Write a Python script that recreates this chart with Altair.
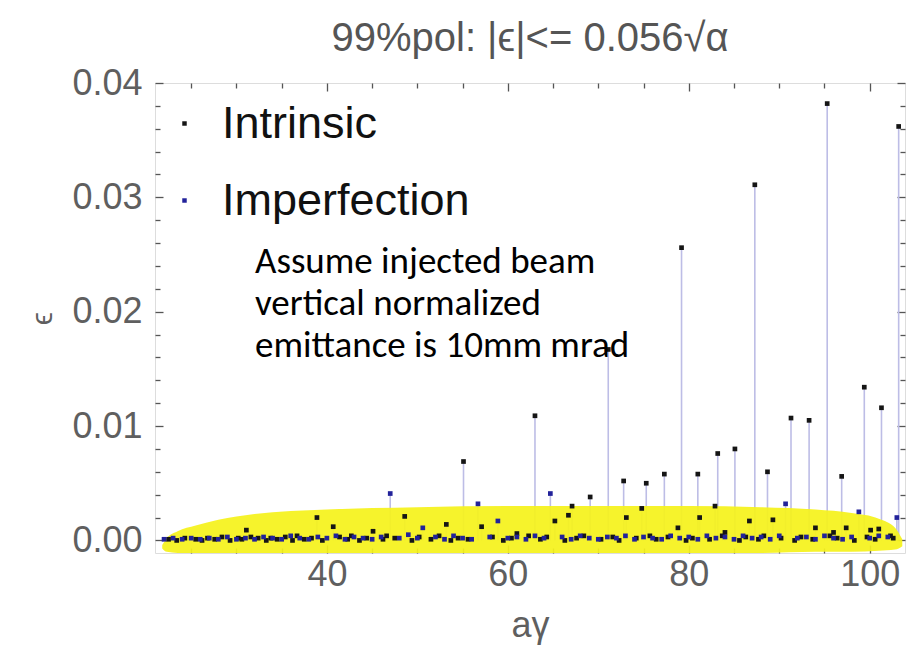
import altair as alt
import pandas as pd

# ---------------- data ----------------
intr_x = [55.1, 63.0, 71.1, 79.2, 87.3, 95.3, 103.2,
          69.1, 72.8, 75.3, 77.3, 81.0, 83.2, 85.1, 88.7, 91.3, 93.3, 96.9, 99.4, 101.3,
          31.1, 32.4, 38.9, 40.7, 45.1, 48.6, 53.2, 57.1, 61.0, 65.2, 66.7, 67.1, 73.1, 74.8,
          78.8, 81.2, 82.9, 84.0, 86.7, 89.3, 94.0, 96.0, 97.4, 100.1, 101.0,
          22.5, 23.4, 24.3, 25.5, 26.2, 26.8, 27.6, 28.4, 29.3, 30.2, 30.6, 31.6, 33.3, 33.8,
          34.5, 35.4, 36.2, 36.7, 37.5, 38.3, 39.5, 41.4, 42.3, 42.7, 43.6, 44.4, 46.2, 46.6,
          47.5, 49.4, 50.2, 51.5, 52.4, 53.7, 54.5, 55.6, 58.3, 59.5, 60.4, 62.3, 63.6, 64.3,
          66.3, 67.6, 68.4, 70.3, 71.6, 72.3, 74.2, 75.7, 76.4, 77.7, 79.7, 80.4, 82.3, 83.7,
          85.6, 86.3, 87.7, 88.3, 90.2, 91.7, 92.4, 93.7, 95.6, 96.4, 98.3, 99.7, 100.6, 102.3,
          102.6]
intr_y = [0.0069, 0.0109, 0.0167, 0.0256, 0.0311, 0.0382, 0.0362,
          0.0038, 0.0052, 0.0050, 0.0058, 0.0058, 0.0076, 0.0080, 0.0060, 0.0107, 0.0105, 0.0056, 0.0134, 0.0116,
          0.0009, 0.0002, 0.0020, 0.0012, 0.0008, 0.0021, 0.0014, 0.0012, 0.0006, 0.0017, 0.0022, 0.0030, 0.0020, 0.0028,
          0.0011, 0.0020, 0.0030, 0.0007, 0.0017, 0.0018, 0.0011, 0.0007, 0.0011, 0.0009, 0.0010,
          0.0001, 0.0000, 0.0002, 0.0001, 0.0000, 0.0002, 0.0001, 0.0003, 0.0000, 0.0002, 0.0001, 0.0003, 0.0000, 0.0002,
          0.0001, 0.0003, 0.0000, 0.0004, 0.0001, 0.0002, 0.0000, 0.0003, 0.0001, 0.0004, 0.0000, 0.0002, 0.0001, 0.0004,
          0.0002, 0.0000, 0.0003, 0.0001, 0.0004, 0.0000, 0.0002, 0.0001, 0.0003, 0.0000, 0.0002, 0.0004, 0.0001, 0.0003,
          0.0000, 0.0002, 0.0004, 0.0001, 0.0003, 0.0000, 0.0002, 0.0004, 0.0001, 0.0003, 0.0000, 0.0002, 0.0001, 0.0004,
          0.0000, 0.0003, 0.0001, 0.0004, 0.0002, 0.0000, 0.0003, 0.0001, 0.0004, 0.0002, 0.0000, 0.0003, 0.0001, 0.0004,
          0.0002]

imp_x = [22, 23, 24, 25, 26, 27, 28, 29, 30, 31, 32, 33, 34, 35, 36, 37, 38, 39, 40, 41,
         42, 43, 44, 45, 46, 47.0, 48, 49, 50, 50.6, 52, 53, 54, 55, 56, 56.7, 58, 58.9, 60, 61,
         62, 63, 64, 64.7, 66, 67, 68, 69, 70, 71, 72, 73, 74, 75, 76, 77, 78, 79, 80, 81,
         82, 83, 84, 85, 86, 87, 88, 89, 90, 90.7, 92, 93, 94, 95, 96, 97, 98, 98.8, 100, 101,
         102, 103.0]
imp_y = [0.0001, 0.0002, 0.0001, 0.0002, 0.0001, 0.0002, 0.0001, 0.0003, 0.0001, 0.0002,
         0.0001, 0.0003, 0.0002, 0.0001, 0.0004, 0.0002, 0.0001, 0.0003, 0.0002, 0.0004,
         0.0001, 0.0003, 0.0002, 0.0001, 0.0003, 0.0041, 0.0002, 0.0005, 0.0002, 0.0011,
         0.0003, 0.0001, 0.0004, 0.0002, 0.0001, 0.0032, 0.0003, 0.0017, 0.0002, 0.0003,
         0.0001, 0.0004, 0.0002, 0.0041, 0.0003, 0.0001, 0.0004, 0.0002, 0.0001, 0.0003,
         0.0002, 0.0004, 0.0001, 0.0003, 0.0002, 0.0001, 0.0004, 0.0002, 0.0003, 0.0001,
         0.0004, 0.0002, 0.0003, 0.0001, 0.0004, 0.0002, 0.0003, 0.0001, 0.0004, 0.0032,
         0.0002, 0.0003, 0.0001, 0.0004, 0.0002, 0.0001, 0.0003, 0.0025, 0.0002, 0.0004,
         0.0003, 0.0020]

series_names = ["Intrinsic", "Imperfection"]
series_colors = ["#151515", "#22229a"]

# yellow highlighter band
hl_x = [21.8, 22.3, 23.5, 25.5, 28.0, 32.0, 40.0, 50.0, 60.0, 70.0, 80.0, 88.0, 94.0, 98.0, 101.0, 102.8, 103.6]
hl_top = [-0.0004, 0.0002, 0.0008, 0.0013, 0.0018, 0.0023, 0.0027, 0.0029, 0.0030, 0.0030, 0.0030, 0.0029, 0.0027, 0.0024, 0.0019, 0.0011, 0.0001]
hl_bot = [-0.0007, -0.0010, -0.0011, -0.0011, -0.0011, -0.0011, -0.0011, -0.0011, -0.0011, -0.0011, -0.0011, -0.0011, -0.0010, -0.0010, -0.0009, -0.0008, -0.0005]

x_major = [40, 60, 80, 100]
x_ticks = [25, 30, 35, 40, 45, 50, 55, 60, 65, 70, 75, 80, 85, 90, 95, 100]
y_major = [0.0, 0.01, 0.02, 0.03, 0.04]
y_ticks = [0.0, 0.002, 0.004, 0.006, 0.008, 0.01, 0.012, 0.014, 0.016, 0.018, 0.02,
           0.022, 0.024, 0.026, 0.028, 0.03, 0.032, 0.034, 0.036, 0.038, 0.04]

title_text = "99%pol: |ϵ|<= 0.056√α"
x_title = "aγ"
y_title = "ϵ"
note_text = "Assume injected beam\nvertical normalized\nemittance is 10mm mrad"

# ---------------- tables ----------------
pts = pd.DataFrame({
    "x": intr_x + imp_x,
    "y": intr_y + imp_y,
    "series": [series_names[0]] * len(intr_x) + [series_names[1]] * len(imp_x),
})
pts["y0"] = 0.0
band = pd.DataFrame({"x": hl_x, "top": hl_top, "bot": hl_bot})
note = pd.DataFrame({"t": [note_text]})

# ---------------- style ----------------
W, H = 750, 470
F = "Liberation Sans"
GRAY = "#5f5f5f"
TICK = "#555555"

xs = alt.Scale(domain=[21.0, 103.9], nice=False, zero=False)
ys = alt.Scale(domain=[-0.0011, 0.04], nice=False, zero=False)


def tick_axis(orient, values, offset, test, major, minor):
    return alt.Axis(orient=orient, offset=offset, values=values, labels=False,
                    domain=False, grid=False, title=None, ticks=True,
                    tickColor=TICK, tickWidth=1.3,
                    tickSize={"condition": {"test": test, "value": major}, "value": minor})


x_test = "datum.value % 20 == 0"
y_test = "abs(datum.value * 100 - round(datum.value * 100)) < 0.001"

main_x = alt.Axis(orient="bottom", values=x_major, ticks=False, domain=False, grid=False,
                  labelFont=F, labelFontSize=36, labelColor=GRAY, labelPadding=4,
                  labelFlush=False, title=x_title, titleFont=F, titleFontSize=36,
                  titleFontWeight="normal", titleColor=GRAY, titlePadding=16)
main_y = alt.Axis(orient="left", values=y_major, format=".2f", ticks=False, domain=False,
                  grid=False, labelFont=F, labelFontSize=36, labelColor=GRAY,
                  labelPadding=13, labelFlush=False, title=y_title, titleFont=F,
                  titleFontSize=30, titleFontWeight="normal", titleColor=GRAY,
                  titlePadding=14)

stems = alt.Chart(pts).mark_rule(color="#bdbde6", strokeWidth=1.6).encode(
    x=alt.X("x:Q", scale=xs, axis=main_x),
    y=alt.Y("y:Q", scale=ys, axis=main_y),
    y2="y0:Q",
)

area = alt.Chart(band).mark_area(color="#f5f21c", opacity=0.93, interpolate="monotone").encode(
    x=alt.X("x:Q", scale=xs, axis=tick_axis("bottom", x_ticks, -H, x_test, 8, 5)),
    y=alt.Y("top:Q", scale=ys, axis=tick_axis("left", y_ticks, -W, y_test, 8, 5)),
    y2="bot:Q",
)

dots = alt.Chart(pts).mark_square(size=22, opacity=1).encode(
    x=alt.X("x:Q", scale=xs, axis=tick_axis("top", x_ticks, -H, x_test, 8, 5)),
    y=alt.Y("y:Q", scale=ys, axis=tick_axis("right", y_ticks, -W, y_test, 8, 5)),
    color=alt.Color("series:N",
                    scale=alt.Scale(domain=series_names, range=series_colors),
                    sort=series_names,
                    legend=alt.Legend(orient="none", legendX=7, legendY=18, title=None,
                                      symbolType="square", symbolSize=20,
                                      symbolStrokeWidth=0, labelFont=F,
                                      labelFontSize=45, labelColor="#111111",
                                      labelOffset=15, rowPadding=31, padding=0,
                                      labelLimit=500)),
)

text = alt.Chart(note).mark_text(align="left", baseline="alphabetic", font="Carlito, Lato",
                                 fontSize=37, lineBreak="\n", lineHeight=42,
                                 color="#000000").encode(
    text="t:N", x=alt.value(100), y=alt.value(190),
)

chart = alt.layer(stems, area, dots, text).resolve_axis(
    x="independent", y="independent"
).properties(
    width=W, height=H,
    title=alt.TitleParams(text=title_text, font=F, fontSize=40, fontWeight="normal",
                          color="#555555", anchor="middle", offset=6),
    autosize=alt.AutoSizeParams(type="none"),
    padding={"left": 155, "top": 83, "right": 7, "bottom": 105},
).configure_view(stroke="#444444", strokeWidth=1.5).configure(background="white")

chart.save("out.html", embed_options={"renderer": "svg", "actions": False})
